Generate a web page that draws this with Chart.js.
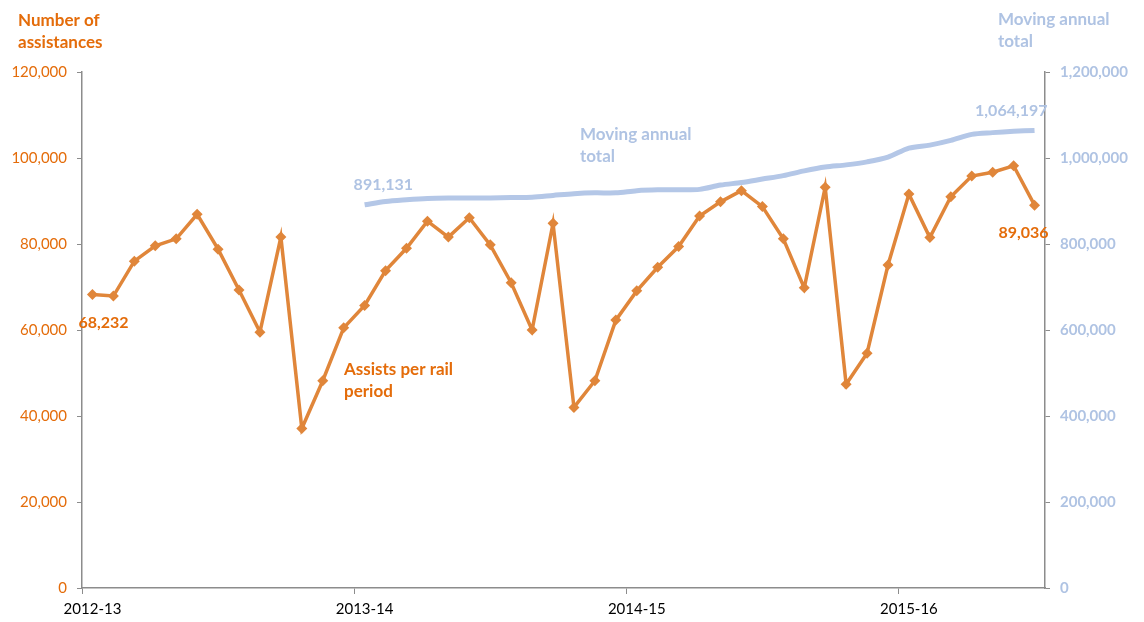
<!DOCTYPE html>
<html>
<head>
<meta charset="utf-8">
<script src="https://cdn.jsdelivr.net/npm/chart.js@4"></script>
<style>
    html, body { margin: 0; padding: 0; background: #fff; }
    #wrap { width: 1144px; height: 622px; position: relative; }
</style>
</head>
<body>
<div id="wrap"><canvas id="chart"></canvas></div>
<script>
// =====================
// DATA
// =====================

const yearLabels = ['2012-13', '2013-14', '2014-15', '2015-16'];
const periodsPerYear = 13;

// assists per rail period (left axis)
const assists = [
    68232, 67900, 76000, 79600, 81200, 86900, 78800, 69300, 59500, 81600,
    37100, 48200, 60500, 65700, 73800, 79000, 85300, 81600, 86100, 79800,
    71000, 60000, 84800, 42000, 48200, 62300, 69100, 74600, 79400, 86500,
    89800, 92400, 88700, 81200, 69800, 93200, 47400, 54600, 75100, 91600,
    81500, 91000, 95800, 96700, 98200, 89036
];

// moving annual total (right axis), starts at period 14
const movingTotal = [
    null, null, null, null, null, null, null, null, null, null,
    null, null, null, 891131, 899000, 903000, 906000, 907000, 907000, 907000,
    908000, 909000, 913000, 917000, 919000, 919000, 924000, 926000, 926000, 927000,
    937000, 943000, 951000, 959000, 970000, 979000, 984000, 991000, 1002000, 1023000,
    1030000, 1041000, 1055000, 1059000, 1062000, 1064197
];

const leftTicks = [0, 20000, 40000, 60000, 80000, 100000, 120000];
const rightTicks = [0, 200000, 400000, 600000, 800000, 1000000, 1200000];

const ORANGE_TEXT = '#E46C0A';
const ORANGE_LINE = '#E0863A';
const BLUE_LINE = '#B4C7E7';
const BLUE_TEXT = '#AFC3E3';
const AXIS = '#8C8C8C';
const FONT = 'Lato, "Open Sans", sans-serif';

const fmt = v => v.toLocaleString('en-US');

// =====================
// TEXT LABELS
// =====================

const notes = {
    id: 'notes',
    afterDatasetsDraw(chart) {
        const { ctx, scales } = chart;
        const x = scales.x, y = scales.y, y2 = scales.y2;
        const last = assists.length - 1;
        const first = movingTotal.findIndex(v => v !== null);

        ctx.save();
        ctx.textBaseline = 'middle';

        // axis titles
        ctx.font = 'bold 17px ' + FONT;
        ctx.fillStyle = ORANGE_TEXT;
        ctx.textAlign = 'left';
        ctx.fillText('Number of', 18, 21);
        ctx.fillText('assistances', 18, 43);

        ctx.fillStyle = BLUE_TEXT;
        ctx.fillText('Moving annual', 998, 20);
        ctx.fillText('total', 998, 42);

        // series names
        ctx.fillStyle = ORANGE_TEXT;
        ctx.fillText('Assists per rail', 344, 370);
        ctx.fillText('period', 344, 392);

        ctx.fillStyle = BLUE_TEXT;
        ctx.fillText('Moving annual', 580, 135);
        ctx.fillText('total', 580, 157);

        // value callouts
        ctx.font = 'bold 16px ' + FONT;
        ctx.fillStyle = ORANGE_TEXT;
        ctx.textAlign = 'left';
        ctx.fillText(fmt(assists[0]), x.getPixelForValue(0) - 14, y.getPixelForValue(assists[0]) + 28);
        ctx.textAlign = 'right';
        ctx.fillText(fmt(assists[last]), x.getPixelForValue(last) + 14, y.getPixelForValue(assists[last]) + 28);

        ctx.fillStyle = BLUE_TEXT;
        ctx.textAlign = 'left';
        ctx.fillText(fmt(movingTotal[first]), x.getPixelForValue(first) - 11, y2.getPixelForValue(movingTotal[first]) - 20);
        ctx.textAlign = 'right';
        ctx.fillText(fmt(movingTotal[last]), x.getPixelForValue(last) + 13, y2.getPixelForValue(movingTotal[last]) - 20);

        ctx.restore();
    }
};

// =====================
// CHART
// =====================

const labels = assists.map((_, i) => i);

new Chart(document.getElementById('chart'), {
    type: 'line',
    data: {
        labels: labels,
        datasets: [
            {
                label: 'Moving annual total',
                data: movingTotal,
                yAxisID: 'y2',
                borderColor: BLUE_LINE,
                borderWidth: 5,
                pointRadius: 0,
                tension: 0.3,
                order: 2,
            },
            {
                label: 'Assists per rail period',
                data: assists,
                yAxisID: 'y',
                borderColor: ORANGE_LINE,
                backgroundColor: ORANGE_LINE,
                borderWidth: 3.5,
                pointStyle: 'rectRot',
                pointRadius: 5.5,
                pointBorderWidth: 0,
                tension: 0,
                order: 1,
            },
        ],
    },
    options: {
        responsive: true,
        maintainAspectRatio: false,
        animation: false,
        layout: { padding: { top: 72, left: 0, right: 0, bottom: 0 } },
        plugins: {
            legend: { display: false },
            tooltip: { enabled: false },
        },
        scales: {
            x: {
                type: 'category',
                offset: true,
                border: { color: AXIS, width: 1.5 },
                grid: {
                    offset: true,
                    drawOnChartArea: false,
                    tickLength: 6,
                    color: ctx => (ctx.index % periodsPerYear === 0 ? AXIS : 'rgba(0,0,0,0)'),
                },
                ticks: {
                    autoSkip: false,
                    maxRotation: 0,
                    padding: 6,
                    color: '#000',
                    font: { family: FONT, size: 15 },
                    callback: (v, i) => (i % periodsPerYear === 0 ? yearLabels[i / periodsPerYear] : ''),
                },
                afterFit: s => { s.height = 34; },
            },
            y: {
                position: 'left',
                min: 0,
                max: 120000,
                border: { color: AXIS, width: 1.5 },
                grid: { drawOnChartArea: false, tickLength: 5, color: AXIS },
                afterBuildTicks: s => { s.ticks = leftTicks.map(v => ({ value: v })); },
                ticks: {
                    padding: 10,
                    color: ORANGE_TEXT,
                    font: { family: FONT, size: 15 },
                    callback: v => fmt(v),
                },
                afterFit: s => { s.width = 82; },
            },
            y2: {
                position: 'right',
                min: 0,
                max: 1200000,
                border: { color: AXIS, width: 1.5 },
                grid: { drawOnChartArea: false, tickLength: 5, color: AXIS },
                afterBuildTicks: s => { s.ticks = rightTicks.map(v => ({ value: v })); },
                ticks: {
                    padding: 10,
                    color: BLUE_TEXT,
                    font: { family: FONT, size: 15, weight: 'bold' },
                    callback: v => fmt(v),
                },
                afterFit: s => { s.width = 99; },
            },
        },
    },
    plugins: [notes],
});
</script>
</body>
</html>
